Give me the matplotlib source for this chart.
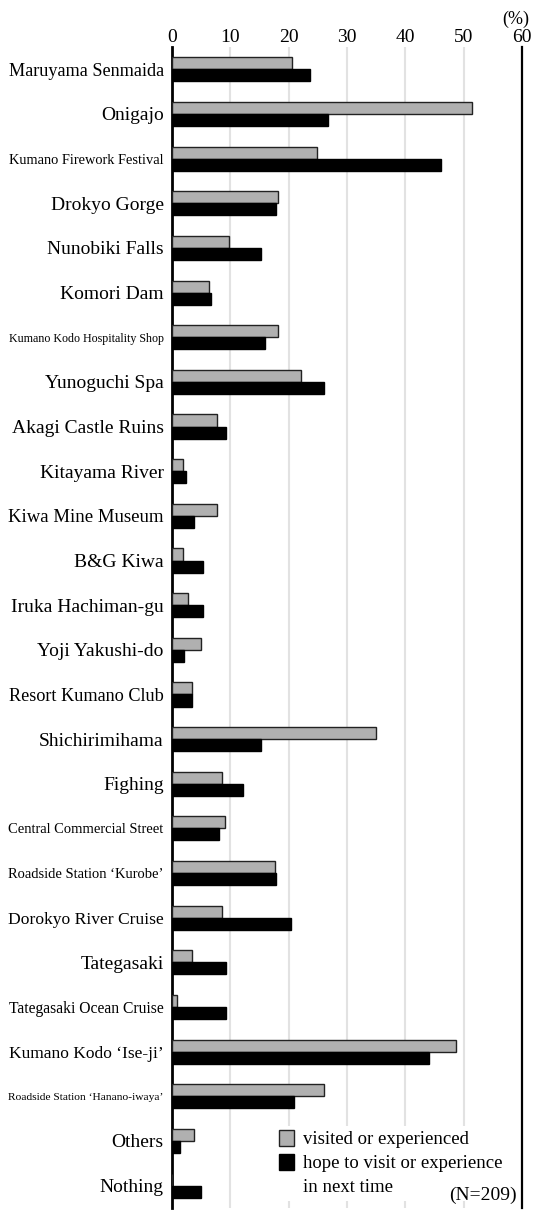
import matplotlib

matplotlib.use("Agg")
import matplotlib.pyplot as plt
import numpy as np
from matplotlib.patches import Patch

# survey data (%), N=209
categories = [
    "Maruyama Senmaida", "Onigajo", "Kumano Firework Festival", "Drokyo Gorge",
    "Nunobiki Falls", "Komori Dam", "Kumano Kodo Hospitality Shop", "Yunoguchi Spa",
    "Akagi Castle Ruins", "Kitayama River", "Kiwa Mine Museum", "B&G Kiwa",
    "Iruka Hachiman-gu", "Yoji Yakushi-do", "Resort Kumano Club", "Shichirimihama",
    "Fighing", "Central Commercial Street", "Roadside Station \u2018Kurobe\u2019",
    "Dorokyo River Cruise", "Tategasaki", "Tategasaki Ocean Cruise",
    "Kumano Kodo \u2018Ise-ji\u2019", "Roadside Station \u2018Hanano-iwaya\u2019",
    "Others", "Nothing",
]
visited = [20.6, 51.5, 24.9, 18.1, 9.8, 6.3, 18.1, 22.1, 7.8, 1.9, 7.8, 1.9, 2.7,
           4.9, 3.4, 35.0, 8.5, 9.1, 17.7, 8.5, 3.4, 0.9, 48.7, 26.0, 3.7, 0.0]
hope = [23.6, 26.8, 46.1, 17.8, 15.3, 6.7, 16.0, 26.1, 9.2, 2.4, 3.8, 5.3, 5.3,
        2.0, 3.4, 15.3, 12.1, 8.1, 17.8, 20.4, 9.2, 9.2, 44.0, 21.0, 1.3, 4.9]
x_ticks = [0, 10, 20, 30, 40, 50, 60]
legend_labels = ["visited or experienced", "hope to visit or experience\nin next time"]
n_label = "(N=209)"

plt.rcParams["font.family"] = ["Liberation Serif", "DejaVu Serif"]

fig = plt.figure(figsize=(5.4, 12.24), dpi=100, facecolor="white")
ax = fig.add_axes([0.3185, 0.0131, 0.6481, 0.9485])

y = np.arange(len(categories))
h = 0.27
gray = "#b0b0b0"
ax.barh(y - h / 2, visited, height=h, color=gray, edgecolor="#222222", linewidth=1.0, zorder=3)
ax.barh(y + h / 2, hope, height=h, color="black", edgecolor="black", linewidth=1.0, zorder=3)

ax.set_xlim(0, 60)
ax.set_ylim(len(categories) - 0.5, -0.5)
ax.set_xticks(x_ticks)
ax.xaxis.tick_top()
ax.tick_params(axis="x", length=0, pad=1, labelsize=14)
ax.tick_params(axis="y", length=0, pad=6, labelsize=14)
ax.set_yticks(y)
ax.set_yticklabels(categories)

for v in x_ticks[1:-1]:
    ax.axvline(v, color="#e2e2e2", linewidth=1.5, zorder=1)

for s in ["top", "bottom"]:
    ax.spines[s].set_visible(False)
ax.spines["left"].set_linewidth(2.0)
ax.spines["right"].set_linewidth(1.6)

fig.text(516 / 540, 1 - 19 / 1224, "(%)", ha="center", va="center", fontsize=13)

# legend: second label wraps, marker sits on its first line
first, second = legend_labels[1].split("\n")
handles = [
    Patch(facecolor=gray, edgecolor="#222222", linewidth=1.0),
    Patch(facecolor="black", edgecolor="black", linewidth=1.0),
    Patch(facecolor="none", edgecolor="none"),
]
leg = ax.legend(handles, [legend_labels[0], first, second], loc="lower right",
                bbox_to_anchor=(0.985, -0.002), fontsize=13.5, frameon=True,
                framealpha=1, facecolor="white", edgecolor="none",
                handlelength=0.8, handleheight=0.9, handletextpad=0.5,
                borderpad=0.25, labelspacing=0.3, fancybox=False)
leg.set_zorder(5)

ax.text(0.985, 0.003, n_label, transform=ax.transAxes, ha="right", va="bottom",
        fontsize=14, zorder=6)

# shrink long category labels to fit the left margin
fig.canvas.draw()
renderer = fig.canvas.get_renderer()
max_w = 156
for lab in ax.get_yticklabels():
    w = lab.get_window_extent(renderer).width
    if w > max_w:
        lab.set_fontsize(lab.get_fontsize() * max_w / w)

fig.savefig("out.png", dpi=100, facecolor="white")
